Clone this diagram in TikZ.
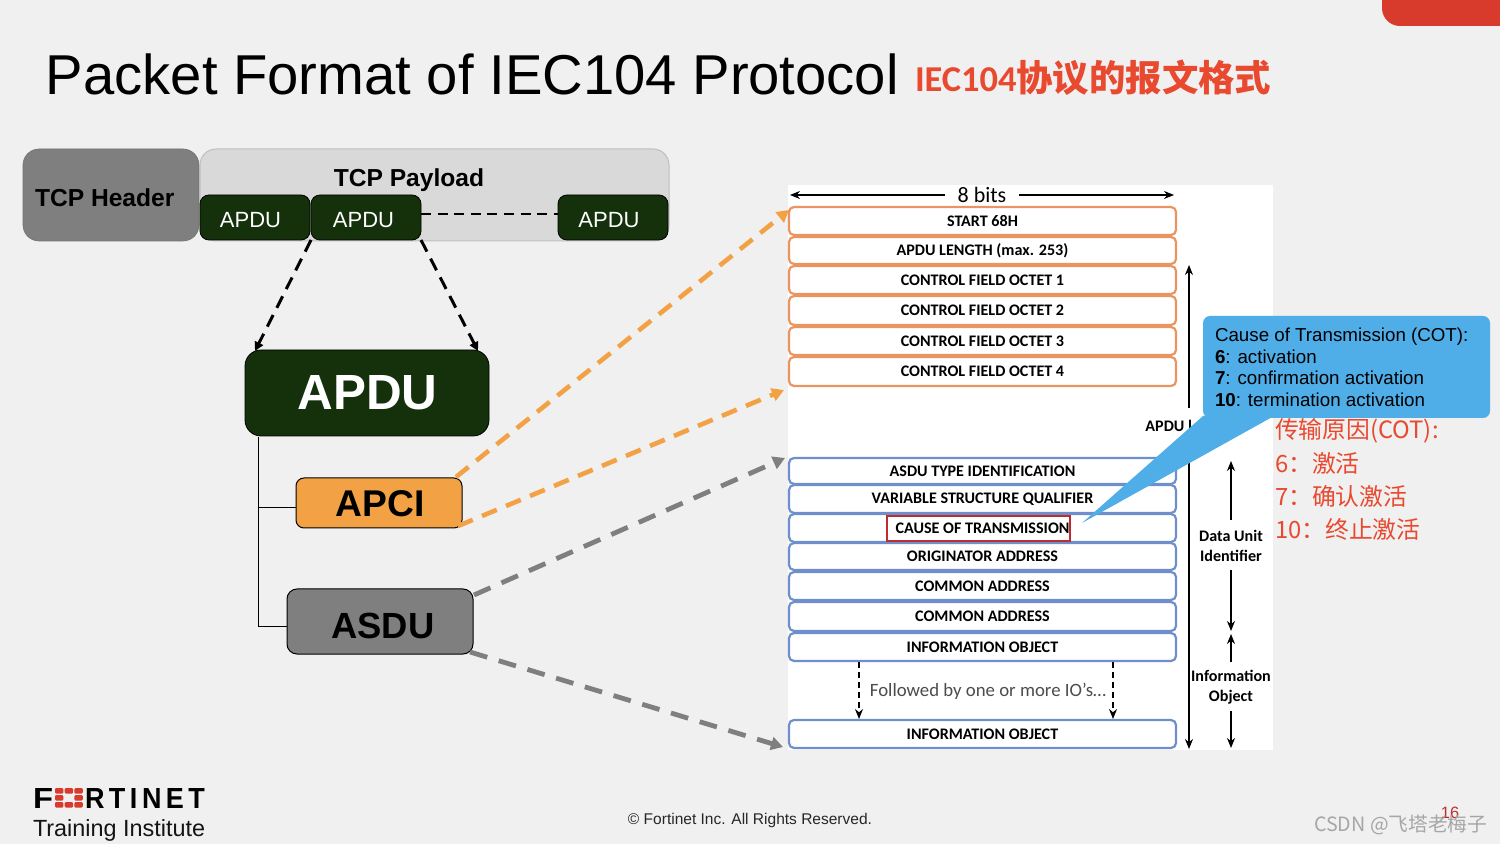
\documentclass[tikz,border=0pt]{standalone}
\usepackage{fontspec}
\setmainfont{Liberation Sans}
\newfontfamily\carl{Carlito}
\newfontfamily\cjkf{Noto Sans CJK SC}
\usetikzlibrary{arrows.meta}
\definecolor{bgc}{HTML}{F0F0F0}
\definecolor{dkgreen}{HTML}{14310B}
\definecolor{orangeA}{HTML}{F2A144}
\definecolor{orangeB}{HTML}{EA9560}
\definecolor{blueB}{HTML}{6E8FCB}
\definecolor{callblue}{HTML}{4FADE8}
\definecolor{grayA}{HTML}{7F7F7F}
\definecolor{redA}{HTML}{D83A2B}
\definecolor{redT}{HTML}{E8492F}
\definecolor{redC}{HTML}{BE2D2D}
\tikzset{
  bxx/.style={inner sep=0pt,outer sep=0pt},
  txt/.style={inner sep=0pt,outer sep=0pt,anchor=west},
  smallgreen/.style={bxx,draw=black,line width=.4pt,fill=dkgreen,rounded corners=4.5pt,text=white,font=\fontsize{11}{13}\selectfont},
  fieldo/.style={bxx,draw=orangeB,line width=1.1pt,fill=white,rounded corners=2.5pt,font=\carl\bfseries\fontsize{8.05}{9}\selectfont},
  fieldb/.style={bxx,draw=blueB,line width=1.1pt,fill=white,rounded corners=2.5pt,font=\carl\bfseries\fontsize{8.05}{9}\selectfont},
  sidelab/.style={inner sep=0pt,outer sep=0pt,align=center,font=\carl\bfseries\fontsize{8.05}{10}\selectfont},
  cnred/.style={txt,text=redT,font=\cjkf\fontsize{11.9}{15}\selectfont},
  dashO/.style={draw=orangeA,line width=2.3pt,dash pattern=on 8pt off 5pt,-{Triangle[length=6pt,width=6.5pt]}},
  dashG/.style={draw=grayA,line width=2.4pt,dash pattern=on 9pt off 6pt,-{Triangle[length=6pt,width=6.5pt]}},
  dashK/.style={draw=black,line width=1.5pt,dash pattern=on 6.5pt off 4pt,-{Triangle[length=4.5pt,width=4.5pt]}},
  thinar/.style={draw=black,line width=.6pt,-{Stealth[length=5pt,width=4pt]}},
  tree/.style={draw=black,line width=.4pt},
}
\newcommand{\bx}[6]{\node[#1,minimum width={(#4-#2)*0.5pt},minimum height={(#5-#3)*0.5pt}] (#6) at ({(#2+#4)/2},{(#3+#5)/2})}
\begin{document}
\begin{tikzpicture}[x=0.5pt,y=-0.5pt]
\useasboundingbox (0,0) rectangle (1500,844);
\fill[bgc] (0,0) rectangle (1500,844);
% corner tab
\begin{scope}
\clip (0,0) rectangle (1500,844);
\fill[redA,rounded corners=9pt] (1382,-30) rectangle (1530,26);
\end{scope}
% title
\node[txt,font=\fontsize{28.1}{32}\selectfont] (title) at (46,74) {Packet Format of IEC104 Protocol};
\node[txt,text=redT,font=\cjkf\bfseries\fontsize{18.2}{20}\selectfont] (titlecn) at (915,78) {{\carl\bfseries IEC104}协议的报文格式};
% TCP
\bx{bxx,fill=grayA,draw=gray!90!black,line width=.3pt,rounded corners=8pt}{23}{149}{199}{241}{tcph}{};
\node[txt,font=\bfseries\fontsize{12.3}{14}\selectfont] (tcpht) at (35,198) {TCP Header};
\bx{bxx,fill=black!15,draw=black!25,line width=.5pt,rounded corners=8pt}{200}{149}{669}{241}{tcpp}{};
\node[bxx,font=\bfseries\fontsize{12.3}{14}\selectfont] (tcppt) at (409,180) {TCP Payload};
\bx{smallgreen}{200}{195}{310}{240}{a1}{};
\bx{smallgreen}{311}{195}{421}{240}{a2}{};
\bx{smallgreen}{558}{195}{668}{240}{a3}{};
\node[bxx,text=white,font=\fontsize{11}{13}\selectfont] (a1t) at (250.5,220) {APDU};
\node[bxx,text=white,font=\fontsize{11}{13}\selectfont] (a2t) at (363.5,220) {APDU};
\node[bxx,text=white,font=\fontsize{11}{13}\selectfont] (a3t) at (609,220) {APDU};
\coordinate (h1) at (421,214);
\coordinate (h2) at (558,214);
\draw[black,line width=1.1pt,dash pattern=on 5pt off 3.3pt] (h1) -- (h2);
% big boxes
\bx{bxx,draw=black,line width=.4pt,fill=dkgreen,rounded corners=8pt}{245}{350}{489}{436}{apdu}{};
\node[bxx,text=white,font=\bfseries\fontsize{24.7}{28}\selectfont] (apdut) at (367.5,393) {APDU};
\bx{bxx,draw=black,line width=.5pt,fill=orangeA,rounded corners=4pt}{296}{478}{462}{528}{apci}{};
\node[bxx,font=\bfseries\fontsize{18.6}{22}\selectfont] (apcit) at (380,504) {APCI};
\bx{bxx,draw=black,line width=.5pt,fill=grayA,rounded corners=5pt}{287}{589}{473}{654}{asdu}{};
\node[bxx,font=\bfseries\fontsize{18.2}{22}\selectfont] (asdut) at (383,626) {ASDU};
\coordinate (tr0) at (258,437);
\coordinate (tr1) at (258,507);
\coordinate (tr2) at (258,626);
\draw[tree] (tr0) -- (tr2) -- (asdu.west |- tr2);
\draw[tree] (tr1) -- (apci.west |- tr1);
% white panel
\fill[white] (788,185) rectangle (1273,750);
% fields
\bx{fieldo}{789}{207}{1176}{235}{f1}{START 68H};
\bx{fieldo}{789}{237}{1176}{264}{f2}{APDU LENGTH (max. 253)};
\bx{fieldo}{789}{266}{1176}{294}{f3}{CONTROL FIELD OCTET 1};
\bx{fieldo}{789}{296}{1176}{325}{f4}{CONTROL FIELD OCTET 2};
\bx{fieldo}{789}{327}{1176}{355}{f5}{CONTROL FIELD OCTET 3};
\bx{fieldo}{789}{357}{1176}{386}{f6}{CONTROL FIELD OCTET 4};
\bx{fieldb}{789}{458}{1176}{484}{g1}{ASDU TYPE IDENTIFICATION};
\bx{fieldb}{789}{485}{1176}{513}{g2}{VARIABLE STRUCTURE QUALIFIER};
\bx{fieldb}{789}{514}{1176}{542}{g3}{CAUSE OF TRANSMISSION};
\bx{fieldb}{789}{543}{1176}{570}{g4}{ORIGINATOR ADDRESS};
\bx{fieldb}{789}{572}{1176}{600}{g5}{COMMON ADDRESS};
\bx{fieldb}{789}{602}{1176}{631}{g6}{COMMON ADDRESS};
\bx{fieldb}{789}{633}{1176}{661}{g7}{INFORMATION OBJECT};
\bx{fieldb}{789}{720}{1176}{748}{g8}{INFORMATION OBJECT};
\bx{bxx,draw=redC,line width=.7pt}{887}{516}{1070}{541}{cotbox}{};
% 8 bits
\node[bxx,font=\carl\fontsize{11}{13}\selectfont] (bits) at (982,195) {8 bits};
\coordinate (b1) at (790,195);
\coordinate (b2) at (945,195);
\coordinate (b3) at (1019,195);
\coordinate (b4) at (1174,195);
\draw[thinar] (b2) -- (b1);
\draw[thinar] (b3) -- (b4);
% followed
\node[bxx,text=black!70,font=\carl\fontsize{9.4}{11}\selectfont] (foll) at (988,691) {Followed by one or more IO’s…};
\coordinate (d1a) at (859,662); \coordinate (d1b) at (859,719);
\coordinate (d2a) at (1113,662); \coordinate (d2b) at (1113,719);
\draw[thinar,dash pattern=on 3pt off 2pt] (d1a) -- (d1b);
\draw[thinar,dash pattern=on 3pt off 2pt] (d2a) -- (d2b);
% side arrows
\coordinate (s1) at (1189,408); \coordinate (s2) at (1189,265);
\coordinate (s3) at (1189,458); \coordinate (s4) at (1189,749);
\draw[thinar] (s1) -- (s2);
\draw[thinar] (s3) -- (s4);
\node[bxx,anchor=east,font=\carl\bfseries\fontsize{8.05}{9}\selectfont] (apdul) at (1192,426) {APDU l};
\node[sidelab] (dui) at (1231,546) {Data Unit\\Identifier};
\node[sidelab] (ioo) at (1231,687) {Information\\Object};
\coordinate (u1) at (1231,520); \coordinate (u2) at (1231,461);
\coordinate (u3) at (1231,570); \coordinate (u4) at (1231,631);
\coordinate (u5) at (1231,662); \coordinate (u6) at (1231,634);
\coordinate (u7) at (1231,711); \coordinate (u8) at (1231,748);
\draw[thinar] (u1) -- (u2);
\draw[thinar] (u3) -- (u4);
\draw[thinar] (u5) -- (u6);
\draw[thinar] (u7) -- (u8);
% chinese
\node[cnred] (cn1) at (1275,431) {传输原因(COT):};
\node[cnred] (cn2) at (1275,463) {6：激活};
\node[cnred] (cn3) at (1275,496) {7：确认激活};
\node[cnred] (cn4) at (1275,529) {10：终止激活};
% callout
\coordinate (w1) at (1203,416);
\coordinate (w2) at (1274,416);
\coordinate (w3) at (1082,523);
\fill[callblue] (w1) -- (w2) -- (w3) -- cycle;
\bx{bxx,fill=callblue,rounded corners=3.5pt}{1203}{316}{1490}{418}{call}{};
\node[txt,anchor=north west,align=left,font=\fontsize{9.37}{10.85}\selectfont] (callt) at (1215,328) {Cause of Transmission (COT):\\\textbf{6}: activation\\\textbf{7}: confirmation activation\\\textbf{10}: termination activation};
% dashed connectors
\coordinate (o1s) at (456,477); \coordinate (o2s) at (458,526);
\coordinate (o1e) at (789,210);
\coordinate (o2e) at (784,390); \coordinate (k1e) at (255,351); \coordinate (k2e) at (478,351);
\coordinate (g1e) at (785,458); \coordinate (g2e) at (783,747);
\coordinate (g1s) at (474,595); \coordinate (g2s) at (470,652);
\draw[dashO] (o1s) -- (o1e);
\draw[dashO] (o2s) -- (o2e);
\draw[dashG] (g1s) -- (g1e);
\draw[dashG] (g2s) -- (g2e);
\draw[dashK] (a2.south west) -- (k1e);
\draw[dashK] (a2.south east) -- (k2e);
% footer logo
\node[txt,font=\bfseries] (logof) at (33,798) {\resizebox{10pt}{10pt}{F}};
\foreach \i/\j in {0/0,1/0,2/0,0/1,2/1,0/2,1/2,2/2}{
  \fill[redA,rounded corners=.6pt] ({55+\i*9.7},{788+\j*7}) rectangle ++(8.4,5.6);
}
\node[txt] (logor) at (85,798) {\resizebox{60pt}{10pt}{\bfseries R\,T\,I\,N\,E\,T}};
\node[txt,text=black!92,font=\fontsize{11.7}{13}\selectfont] (train) at (33,830) {Training Institute};
\node[bxx,text=black!85,font=\fontsize{7.76}{9}\selectfont] (copy) at (750,820) {© Fortinet Inc. All Rights Reserved.};
\node[bxx,text=redC,font=\fontsize{8.2}{10}\selectfont] (pg) at (1450,813) {16};
\node[txt,text=black!35,font=\cjkf\fontsize{9.85}{12}\selectfont] (wm) at (1314,825) {CSDN @飞塔老梅子};
\end{tikzpicture}
\end{document}
